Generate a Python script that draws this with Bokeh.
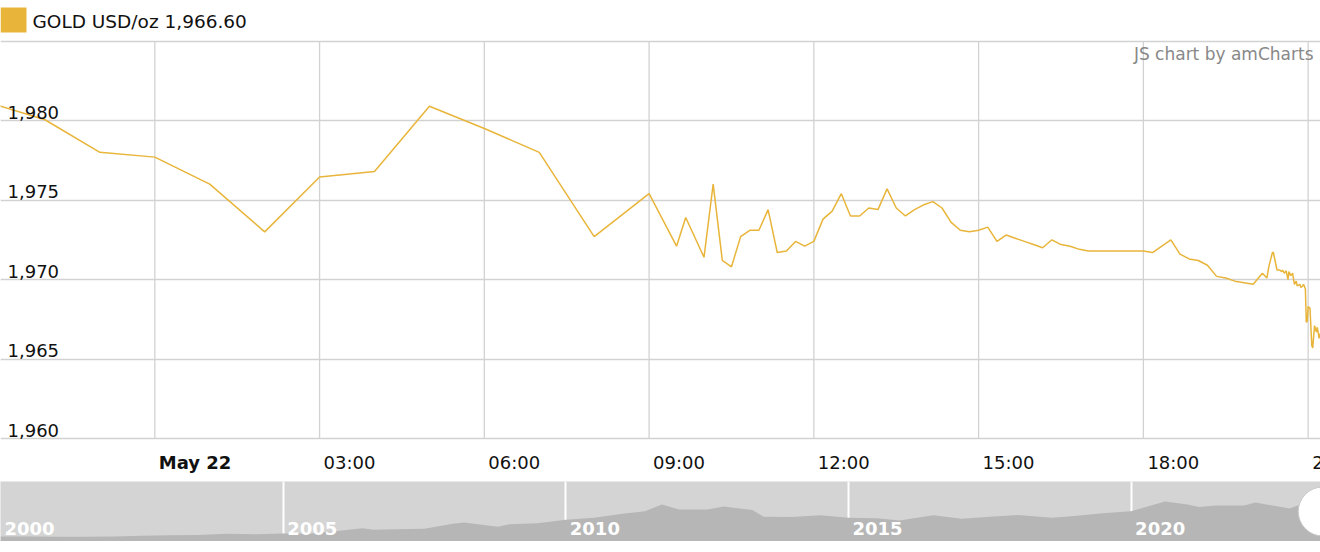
import pandas as pd
from bokeh.plotting import figure
from bokeh.models import Range1d, Grid, FixedTicker, Label, BoxAnnotation, ColumnDataSource
from bokeh.layouts import column
from bokeh.embed import file_html
from bokeh.resources import INLINE

# ---------------- data ----------------
times = [
    "2023-05-21 21:00", "2023-05-21 22:00", "2023-05-21 23:00", "2023-05-22 00:00",
    "2023-05-22 01:00", "2023-05-22 02:00", "2023-05-22 03:00", "2023-05-22 04:00",
    "2023-05-22 05:00", "2023-05-22 06:00", "2023-05-22 07:00", "2023-05-22 08:00",
    "2023-05-22 09:00", "2023-05-22 09:30", "2023-05-22 09:40", "2023-05-22 10:00",
    "2023-05-22 10:10", "2023-05-22 10:20", "2023-05-22 10:30", "2023-05-22 10:40",
    "2023-05-22 10:50", "2023-05-22 11:00", "2023-05-22 11:10", "2023-05-22 11:20",
    "2023-05-22 11:30", "2023-05-22 11:40", "2023-05-22 11:50", "2023-05-22 12:00",
    "2023-05-22 12:10", "2023-05-22 12:20", "2023-05-22 12:30", "2023-05-22 12:40",
    "2023-05-22 12:50", "2023-05-22 13:00", "2023-05-22 13:10", "2023-05-22 13:20",
    "2023-05-22 13:30", "2023-05-22 13:40", "2023-05-22 13:50", "2023-05-22 14:00",
    "2023-05-22 14:10", "2023-05-22 14:20", "2023-05-22 14:30", "2023-05-22 14:40",
    "2023-05-22 14:50", "2023-05-22 15:00", "2023-05-22 15:10", "2023-05-22 15:20",
    "2023-05-22 15:30", "2023-05-22 15:40", "2023-05-22 15:50", "2023-05-22 16:00",
    "2023-05-22 16:10", "2023-05-22 16:20", "2023-05-22 16:30", "2023-05-22 16:40",
    "2023-05-22 16:50", "2023-05-22 17:00", "2023-05-22 18:00", "2023-05-22 18:10",
    "2023-05-22 18:30", "2023-05-22 18:40", "2023-05-22 18:50", "2023-05-22 19:00",
    "2023-05-22 19:10", "2023-05-22 19:20", "2023-05-22 19:30", "2023-05-22 19:40",
    "2023-05-22 20:00", "2023-05-22 20:10", "2023-05-22 20:15", "2023-05-22 20:17",
    "2023-05-22 20:21", "2023-05-22 20:22", "2023-05-22 20:26", "2023-05-22 20:29",
    "2023-05-22 20:31", "2023-05-22 20:32", "2023-05-22 20:34", "2023-05-22 20:36",
    "2023-05-22 20:38", "2023-05-22 20:39", "2023-05-22 20:41", "2023-05-22 20:43",
    "2023-05-22 20:45", "2023-05-22 20:47", "2023-05-22 20:48", "2023-05-22 20:51",
    "2023-05-22 20:52", "2023-05-22 20:54", "2023-05-22 20:55", "2023-05-22 20:57",
    "2023-05-22 20:58", "2023-05-22 20:59", "2023-05-22 21:00", "2023-05-22 21:02",
    "2023-05-22 21:04", "2023-05-22 21:05", "2023-05-22 21:07", "2023-05-22 21:09",
    "2023-05-22 21:10", "2023-05-22 21:12", "2023-05-22 21:13",
]
prices = [
    1981.1, 1980.05, 1978.0, 1977.7,
    1976.0, 1973.0, 1976.45, 1976.8,
    1980.9, 1979.5, 1978.0, 1972.7,
    1975.4, 1972.1, 1973.9, 1971.4,
    1976.0, 1971.2, 1970.8, 1972.7,
    1973.1, 1973.1, 1974.4, 1971.7,
    1971.8, 1972.4, 1972.1, 1972.4,
    1973.8, 1974.3, 1975.4, 1974.0,
    1974.0, 1974.5, 1974.4, 1975.7,
    1974.5, 1974.0, 1974.4, 1974.7,
    1974.9, 1974.5, 1973.6, 1973.1,
    1973.0, 1973.1, 1973.3, 1972.4,
    1972.8, 1972.6, 1972.4, 1972.2,
    1972.0, 1972.5, 1972.2, 1972.1,
    1971.9, 1971.8, 1971.8, 1971.7,
    1972.5, 1971.6, 1971.3, 1971.2,
    1970.9, 1970.2, 1970.1, 1969.9,
    1969.7, 1970.4, 1970.1, 1970.8,
    1971.7, 1971.7, 1970.6, 1970.6,
    1970.5, 1970.6, 1970.4, 1970.55,
    1970.0, 1970.5, 1970.25, 1970.4,
    1969.7, 1969.9, 1969.6, 1969.7,
    1969.5, 1969.6, 1969.7, 1969.4,
    1967.3, 1967.4, 1968.3, 1968.2,
    1965.85, 1965.7, 1967.1, 1966.7,
    1967.0, 1966.3, 1966.6,
]
legend_text = "GOLD USD/oz 1,966.60"
credit_text = "JS chart by amCharts"
y_ticks = [1960, 1965, 1970, 1975, 1980]
y_grid = [1960, 1965, 1970, 1975, 1980, 1985]
x_tick_times = ["2023-05-22 00:00", "2023-05-22 03:00", "2023-05-22 06:00", "2023-05-22 09:00",
                "2023-05-22 12:00", "2023-05-22 15:00", "2023-05-22 18:00", "2023-05-22 21:00"]
x_tick_labels = ["May 22", "03:00", "06:00", "09:00", "12:00", "15:00", "18:00", "21:00"]

# long-term navigator (scrollbar) series
nav_years = [2000.0, 2000.5, 2001.0, 2001.5, 2002.0, 2002.5, 2003.0, 2003.5, 2004.0, 2004.5,
             2005.0, 2005.5, 2006.0, 2006.4, 2006.6, 2007.0, 2007.5, 2008.0, 2008.2, 2008.8,
             2009.0, 2009.5, 2010.0, 2010.5, 2011.0, 2011.4, 2011.7, 2012.0, 2012.5, 2012.8,
             2013.0, 2013.3, 2013.5, 2014.0, 2014.5, 2015.0, 2015.5, 2015.9, 2016.5, 2017.0,
             2017.5, 2018.0, 2018.6, 2019.0, 2019.5, 2020.0, 2020.6, 2021.0, 2021.2, 2021.5,
             2022.0, 2022.2, 2022.8, 2023.0, 2023.39]
nav_prices = [285, 275, 265, 270, 285, 315, 345, 350, 410, 395,
              425, 430, 560, 680, 610, 640, 660, 900, 960, 760,
              880, 930, 1100, 1200, 1400, 1520, 1850, 1600, 1600, 1750,
              1680, 1580, 1250, 1240, 1320, 1200, 1170, 1070, 1320, 1150,
              1250, 1330, 1200, 1290, 1420, 1520, 2000, 1850, 1730, 1800,
              1800, 1950, 1650, 1850, 1975]
nav_year_labels = [2000, 2005, 2010, 2015, 2020]
nav_separators = [2005, 2010, 2015, 2020]

# ---------------- style ----------------
FONT = "DejaVu Sans"
GOLD = "#e8b53a"
GRID = "#d2d2d2"
W = 1320
MAIN_H = 481
NAV_H = 60


def ms(s):
    return pd.Timestamp(s).value / 1e6


x_ms = [ms(t) for t in times]
tick_ms = [ms(t) for t in x_tick_times]

# frame covers the whole figure; ranges chosen so the value grid sits at y=40..438
x_start = ms("2023-05-21 21:11:25")
x_end = ms("2023-05-22 21:13:30")
y_lo, y_hi = 1957.3, 1987.55
px_per_unit = MAIN_H / (y_hi - y_lo)

p = figure(width=W, height=MAIN_H, x_range=Range1d(x_start, x_end), y_range=Range1d(y_lo, y_hi),
           x_axis_type=None, y_axis_type=None, output_backend="svg", toolbar_location=None,
           min_border=0, outline_line_color=None,
           background_fill_color="white", border_fill_color="white")

# horizontal grid (full width) and vertical grid (only within value band)
p.add_layout(Grid(dimension=1, ticker=FixedTicker(ticks=y_grid), grid_line_color=GRID, grid_line_width=1.3))
p.segment(x0=tick_ms, x1=tick_ms, y0=[y_grid[0]] * len(tick_ms), y1=[y_grid[-1]] * len(tick_ms),
          line_color=GRID, line_width=1.3)

src = ColumnDataSource(dict(x=x_ms, y=prices))
p.line("x", "y", source=src, line_color=GOLD, line_width=1.5)

# legend: swatch + text above the value band
p.add_layout(BoxAnnotation(left=0, right=26, bottom=MAIN_H - 32, top=MAIN_H - 7,
                           left_units="screen", right_units="screen",
                           bottom_units="screen", top_units="screen",
                           fill_color=GOLD, fill_alpha=1, line_color=None))
p.add_layout(Label(x=32, x_units="screen", y=MAIN_H - 21, y_units="screen", text=legend_text,
                   text_font=FONT, text_font_size="18.5px", text_color="#111111",
                   text_align="left", text_baseline="middle"))

# value labels sit just above their grid line
for v in y_ticks:
    p.add_layout(Label(x=7, x_units="screen", y=v + 8.5 / px_per_unit, y_units="data",
                       text=f"{v:,}", text_font=FONT, text_font_size="18px",
                       text_color="#111111", text_align="left", text_baseline="middle"))

# time labels start just right of their grid line
for t, lab in zip(tick_ms, x_tick_labels):
    p.add_layout(Label(x=t, x_units="data", y=MAIN_H - 462, y_units="screen", x_offset=4,
                       text=lab, text_font=FONT, text_font_size="18px",
                       text_font_style="bold" if lab.startswith("May") else "normal",
                       text_color="#111111", text_align="left", text_baseline="middle"))

p.add_layout(Label(x=1313, x_units="screen", y=MAIN_H - 53, y_units="screen", text=credit_text,
                   text_font=FONT, text_font_size="17px", text_color="#888888",
                   text_align="right", text_baseline="middle"))

# ---------------- navigator ----------------
nav_lo, nav_hi = 35, 2975
nav_start, nav_end = 2000.0, 2023.35
nav = figure(width=W, height=NAV_H, x_range=Range1d(nav_start, nav_end), y_range=Range1d(nav_lo, nav_hi),
             x_axis_type=None, y_axis_type=None, output_backend="svg", toolbar_location=None,
             min_border=0, outline_line_color=None,
             background_fill_color="#d4d4d4", border_fill_color="white")
nav.varea(x=nav_years, y1=[nav_lo] * len(nav_years), y2=nav_prices, fill_color="#b6b6b6")
nav.add_layout(Grid(dimension=0, ticker=FixedTicker(ticks=nav_separators),
                    grid_line_color="white", grid_line_width=2))
for yr in nav_year_labels:
    nav.add_layout(Label(x=yr, x_units="data", y=13, y_units="screen", x_offset=4,
                         text=str(yr), text_font=FONT, text_font_size="18px", text_font_style="bold",
                         text_color="white", text_align="left", text_baseline="middle"))
nav.scatter(x=[nav_years[-1]], y=[(nav_lo + nav_hi) / 2], marker="circle", size=49,
            fill_color="white", line_color="#c8c8c8", line_width=1)

layout = column(p, nav, spacing=0)
open("out.html", "w").write(file_html(layout, INLINE))
